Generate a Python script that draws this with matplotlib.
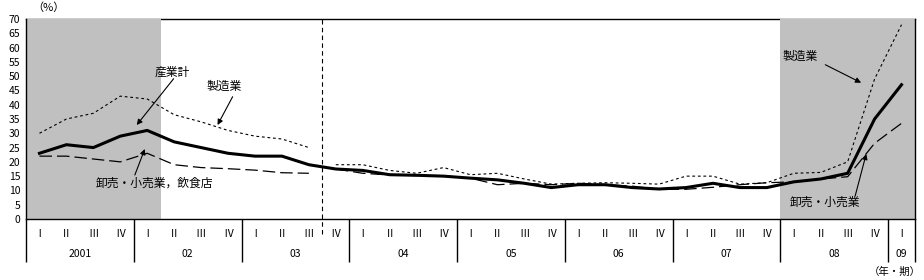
import numpy as np
import matplotlib
matplotlib.use('Agg')
import matplotlib.pyplot as plt
import matplotlib.transforms as mtransforms

plt.rcParams['font.family'] = ['Noto Sans CJK JP', 'DejaVu Sans']

# 2001 I .. 2009 I (33 quarters)
quarter_labels = ['Ⅰ', 'Ⅱ', 'Ⅲ', 'Ⅳ'] * 8 + ['Ⅰ']
year_labels = ['2001', '02', '03', '04', '05', '06', '07', '08', '09']

total = [23, 26, 25, 29, 31, 27, 25, 23, 22, 22, 19,
         17.5, 17, 15.5, 15.3, 15, 14.3, 13.7, 12.5, 11, 12, 12, 11, 10.5,
         11, 12.5, 11, 11, 13, 14, 16, 35, 47]
manuf = [30, 35, 37, 43, 42, 36.5, 34, 31, 29, 28, 25,
         19, 19, 17, 16, 18, 15.5, 16, 14, 12.2, 12.5, 12.7, 12.5, 12.2,
         15, 15, 12.2, 12.7, 16, 16.3, 20, 49, 68]
wholesale = [22, 22, 21, 20, 23, 19, 18, 17.6, 17.1, 16.2, 16,
             17.5, 16, 15.4, 15.2, 15, 14.3, 12, 12.5, 12, 12.5, 12, 11.5, 10.4,
             10.4, 11.1, 12, 12.7, 13, 14, 14.8, 26.5, 33.5]
# series break between 2003 III and 2003 IV
break_at = 11
# shaded quarters (first, last)
shaded = [(0, 4), (28, 32)]

x = np.arange(len(total))

fig = plt.figure(figsize=(9.24, 2.8), dpi=100)
ax = fig.add_axes([26 / 924, 61 / 280, 889 / 924, 200 / 280])

for a, b in shaded:
    ax.axvspan(a - 0.5, b + 0.5, color='#c0c0c0', lw=0, zorder=1)
ax.spines['top'].set_zorder(0.5)

ax.axvline(break_at - 0.5, ymin=-0.075, ymax=1, color='black', lw=0.8,
           ls=(0, (4, 3)), clip_on=False, zorder=2)

for seg in (slice(0, break_at), slice(break_at, None)):
    ax.plot(x[seg], manuf[seg], color='black', lw=0.8, ls=(0, (2.5, 2.5)), zorder=3)
    ax.plot(x[seg], wholesale[seg], color='black', lw=0.9, ls=(0, (10, 4)), zorder=3)
ax.plot(x, total, color='black', lw=2.2, zorder=4)

ax.set_xlim(-0.5, len(total) - 0.5)
ax.set_ylim(0, 70)
ax.set_yticks(np.arange(0, 71, 5))
ax.tick_params(axis='y', length=0, pad=4, labelsize=7.5)

# year boundaries as long ticks, quarter labels as minor ticks
bounds = list(np.arange(-0.5, len(total) - 1, 4)) + [len(total) - 0.5]
ax.set_xticks(bounds)
ax.set_xticklabels([''] * len(bounds))
ax.tick_params(axis='x', which='major', length=31, width=1, direction='out')
ax.set_xticks(x, minor=True)
ax.set_xticklabels(quarter_labels, minor=True)
ax.tick_params(axis='x', which='minor', length=0, pad=7, labelsize=7.5)

trans = mtransforms.blended_transform_factory(ax.transData, ax.transAxes)
for k, lab in enumerate(year_labels):
    lo = 4 * k
    hi = min(4 * k + 3, len(total) - 1)
    ax.text((lo + hi) / 2, -0.175, lab, transform=trans, ha='center', va='center',
            fontsize=7.5)

for s in ['left', 'right', 'bottom', 'top']:
    ax.spines[s].set_linewidth(1)

fs = 8.5
arrow = dict(arrowstyle='-|>', color='black', lw=0.8, mutation_scale=8,
             shrinkA=0, shrinkB=0)
ax.text(4.91, 51.5, '産業計', ha='center', va='center', fontsize=fs, zorder=5)
ax.annotate('', xy=(3.61, 32.9), xytext=(4.98, 49.1), arrowprops=arrow, zorder=5)
ax.text(6.87, 46.3, '製造業', ha='center', va='center', fontsize=fs, zorder=5)
ax.annotate('', xy=(6.61, 32.9), xytext=(7.17, 42.8), arrowprops=arrow, zorder=5)
ax.text(4.28, 12.6, '卸売・小売業，飲食店', ha='center', va='center', fontsize=fs, zorder=5)
ax.annotate('', xy=(3.91, 24.5), xytext=(3.54, 15.4), arrowprops=arrow, zorder=5)
ax.text(28.24, 56.8, '製造業', ha='center', va='center', fontsize=fs, zorder=5)
ax.annotate('', xy=(30.5, 47.7), xytext=(29.17, 54.0), arrowprops=arrow, zorder=5)
ax.text(29.17, 6.0, '卸売・小売業', ha='center', va='center', fontsize=fs, zorder=5)
ax.annotate('', xy=(30.69, 22.8), xytext=(30.28, 8.1), arrowprops=arrow, zorder=5)

fig.text(48 / 924, 1 - 8 / 280, '（%）', ha='center', va='center', fontsize=8)
fig.text(921 / 924, 1 - 272 / 280, '（年・期）', ha='right', va='center', fontsize=7.5)

fig.savefig('out.png', dpi=100)
